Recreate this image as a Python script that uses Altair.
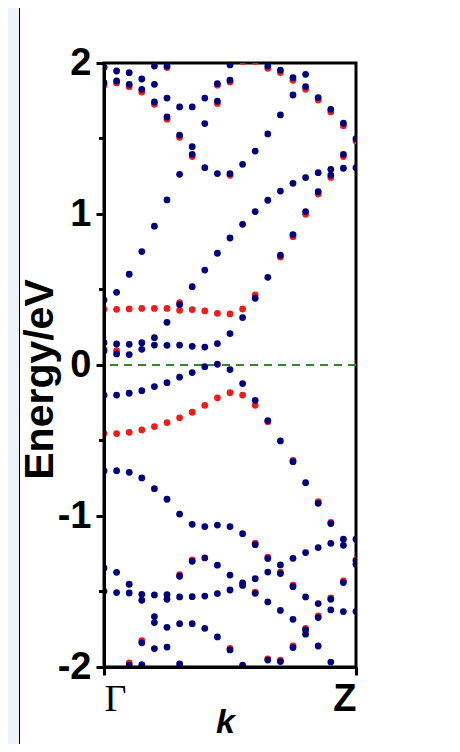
import altair as alt
import pandas as pd

# ---- band energies (eV) read per k-column (k = 0 at Gamma ... 20 at Z) ----
navy_k0 = [1.975, 1.870, 0.430, 0.148, 0.093, -0.200, -0.702, -1.344, -1.499]
navy_k1 = [1.947, 1.881, 0.481, 0.139, 0.073, -0.199, -0.700, -1.373, -1.507]
navy_k2 = [1.936, 1.859, 0.601, 0.137, 0.069, -0.187, -0.711, -1.452, -1.510, -1.987]
navy_k3 = [1.894, 1.826, 0.751, 0.148, 0.104, -0.170, -0.748, -1.519, -1.558, -1.840, -1.984]
navy_k4 = [1.980, 1.859, 1.742, 0.919, 0.181, 0.132, -0.143, -0.819, -1.523, -1.666, -1.706, -1.878]
navy_k5 = [1.980, 1.768, 1.643, 1.093, 0.283, 0.130, -0.117, -0.889, -1.520, -1.552, -1.737, -1.868]
navy_k6 = [1.709, 1.523, 1.263, 0.400, 0.132, -0.081, -0.987, -1.399, -1.536, -1.713, -1.980]
navy_k7 = [1.709, 1.446, 1.395, 0.519, 0.124, -0.050, -1.055, -1.300, -1.534, -1.713]
navy_k8 = [1.768, 1.599, 1.307, 0.629, 0.119, -0.011, -1.070, -1.278, -1.530, -1.744]
navy_k9 = [1.864, 1.748, 1.268, 0.740, 0.142, 0.005, -1.060, -1.326, -1.514, -1.801]
navy_k10 = [1.987, 1.886, 1.268, 0.841, 0.208, -0.030, -1.070, -1.391, -1.490, -1.887]
navy_k11 = [1.329, 0.932, 0.314, -0.123, -1.117, -1.443, -1.460, -1.987]
navy_k12 = [1.417, 1.016, 0.442, -0.234, -1.190, -1.415, -1.512]
navy_k13 = [1.980, 1.530, 1.091, 0.581, -0.368, -1.282, -1.371, -1.569, -1.954]
navy_k14 = [1.953, 1.656, 1.152, 0.727, -0.503, -1.324, -1.381, -1.625, -1.964]
navy_k15 = [1.903, 1.788, 1.203, 0.864, -0.640, -1.280, -1.468, -1.684, -1.871]
navy_k16 = [1.925, 1.844, 1.241, 1.016, -0.779, -1.242, -1.536, -1.755, -1.783]
navy_k17 = [1.771, 1.274, 1.148, -0.916, -1.209, -1.580, -1.673, -1.861]
navy_k18 = [1.693, 1.296, 1.258, -1.050, -1.181, -1.552, -1.622, -1.967]
navy_k19 = [1.601, 1.395, 1.303, -1.154, -1.194, -1.441, -1.633]
navy_k20 = [1.499, 1.307, -1.154, -1.298, -1.320, -1.633]

red_k0 = [1.968, 1.852, 0.369, 0.104, -0.454]
red_k1 = [1.868, 0.369, 0.095, -0.454]
red_k2 = [1.843, 0.371, -0.446, -1.972]
red_k3 = [1.808, 0.375, -0.430, -1.826]
red_k4 = [1.726, 0.375, -0.408]
red_k5 = [1.970, 1.628, 0.375, -0.381]
red_k6 = [1.508, 0.413, 0.362, -0.350, -1.388]
red_k7 = [1.380, 0.367, -0.313, -1.290]
red_k8 = [0.358, -0.267]
red_k9 = [1.853, 1.732, 0.342, -0.217]
red_k10 = [1.874, 1.256, 0.338, -0.183, -1.877]
red_k11 = [2.010, 0.371, -0.199]
red_k12 = [2.010, 0.464, -0.267, -1.180, -1.505]
red_k13 = [1.965, -0.375, -1.272, -1.946]
red_k14 = [1.937, 0.715, -1.372, -1.955]
red_k15 = [1.885, 0.850, -0.632, -1.458, -1.860]
red_k16 = [1.826, 0.998, -1.745]
red_k17 = [1.755, 1.132, -0.905, -1.662]
red_k18 = [1.676, 1.242, -1.042, -1.542]
red_k19 = [1.585, 1.380, -1.430]
red_k20 = [1.483, -1.290]

major_ticks = [-2, -1, 0, 1, 2]
minor_ticks = [-1.5, -0.5, 0.5, 1.5]
k_ticks = [0, 20]
fermi = [0]

navy_cols = [navy_k0, navy_k1, navy_k2, navy_k3, navy_k4, navy_k5, navy_k6, navy_k7,
             navy_k8, navy_k9, navy_k10, navy_k11, navy_k12, navy_k13, navy_k14,
             navy_k15, navy_k16, navy_k17, navy_k18, navy_k19, navy_k20]
red_cols = [red_k0, red_k1, red_k2, red_k3, red_k4, red_k5, red_k6, red_k7,
            red_k8, red_k9, red_k10, red_k11, red_k12, red_k13, red_k14,
            red_k15, red_k16, red_k17, red_k18, red_k19, red_k20]

navy_df = pd.DataFrame([{"k": i, "E": e} for i, col in enumerate(navy_cols) for e in col])
red_df = pd.DataFrame([{"k": i, "E": e} for i, col in enumerate(red_cols) for e in col])

SANS = "Liberation Sans"
SERIF = "Liberation Serif"

xscale = alt.Scale(domain=[0, 20], nice=False, zero=False)
yscale = alt.Scale(domain=[-2, 2], nice=False, zero=False)

x_axis = alt.Axis(
    values=k_ticks,
    labelExpr="datum.value == 0 ? 'Γ' : 'Z'",
    labelFlush=True,
    labelFont={"condition": {"test": "datum.value == 0", "value": SERIF}, "value": SANS},
    labelFontWeight={"condition": {"test": "datum.value == 0", "value": "normal"}, "value": "bold"},
    labelFontSize=38,
    labelColor="black",
    labelPadding=5,
    tickSize=8,
    tickWidth=3,
    tickColor="black",
    domainColor="black",
    domainWidth=3,
    grid=False,
    title="k",
    titleFont=SANS,
    titleFontSize=34,
    titleFontWeight="bold",
    titleFontStyle="italic",
    titleColor="black",
    titleX=121,
    titleY=65,
    titleAlign="center",
    titleBaseline="alphabetic",
    zindex=1,
)

y_axis = alt.Axis(
    values=major_ticks,
    labelExpr="'' + datum.value",
    labelFont=SANS,
    labelFontWeight="bold",
    labelFontSize=38,
    labelColor="black",
    labelPadding=5,
    tickSize=8,
    tickWidth=3,
    tickColor="black",
    domainColor="black",
    domainWidth=3,
    grid=False,
    title="Energy/eV",
    titleFont=SANS,
    titleFontSize=41,
    titleFontWeight="bold",
    titleColor="black",
    titleAngle=270,
    titleX=-52,
    titleY=316,
    titleAlign="center",
    titleBaseline="alphabetic",
    zindex=1,
)

one_row = alt.Data(values=[{"a": 1}])

strip = alt.Chart(one_row).mark_rect(color="#eef2fb", clip=False).encode(
    x=alt.value(-96), x2=alt.value(-85), y=alt.value(-55), y2=alt.value(681)
)
strip_line = alt.Chart(one_row).mark_rule(color="black", strokeWidth=1, clip=False).encode(
    x=alt.value(-84.5), y=alt.value(-55), y2=alt.value(681)
)

red_pts = alt.Chart(red_df).mark_circle(size=46, color="#f01c1c", opacity=1, clip=True).encode(
    x=alt.X("k:Q", scale=xscale, axis=x_axis),
    y=alt.Y("E:Q", scale=yscale, axis=y_axis),
)
navy_pts = alt.Chart(navy_df).mark_circle(size=46, color="#00007a", opacity=1, clip=True).encode(
    x=alt.X("k:Q", scale=xscale),
    y=alt.Y("E:Q", scale=yscale),
)

zero_line = alt.Chart(pd.DataFrame({"E": fermi})).mark_rule(
    color="#2a8c2a", strokeWidth=2, strokeDash=[8, 6]
).encode(y=alt.Y("E:Q", scale=yscale))

minor = alt.Chart(pd.DataFrame({"E": minor_ticks})).mark_rule(
    color="black", strokeWidth=3, clip=False
).encode(y=alt.Y("E:Q", scale=yscale), x=alt.value(-5), x2=alt.value(0))

chart = alt.layer(strip, strip_line, zero_line, red_pts, navy_pts, minor).properties(
    width=252,
    height=604,
    autosize=alt.AutoSizeParams(type="none"),
    padding={"left": 96, "top": 55, "right": 96, "bottom": 77},
    background="white",
).configure_view(stroke="black", strokeWidth=3)

chart.save("out.html", embed_options={"renderer": "svg", "actions": False})
